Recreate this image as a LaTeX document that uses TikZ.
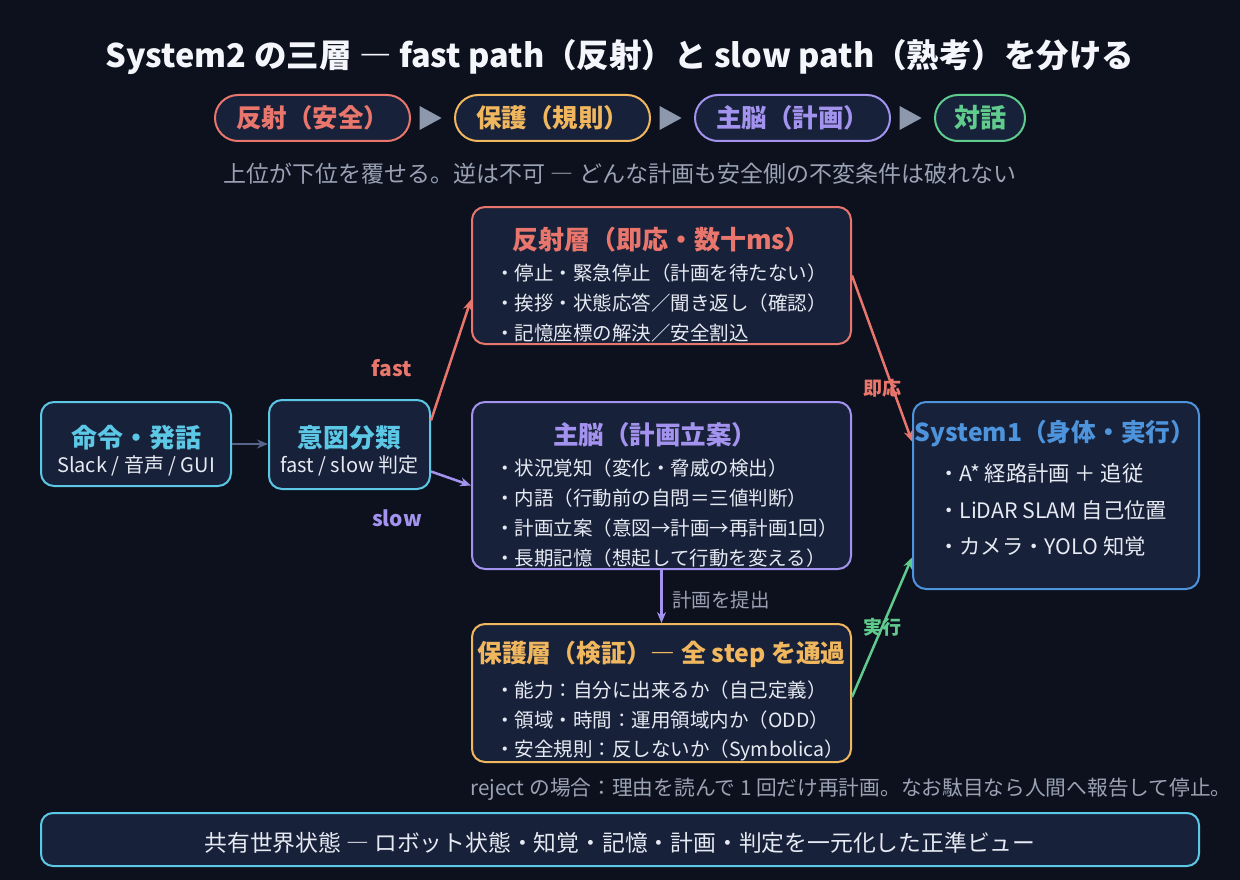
\documentclass[tikz,border=0pt]{standalone}
\usepackage{fontspec}
\setmainfont{Noto Sans CJK JP}
\usetikzlibrary{arrows.meta,calc}
\definecolor{bg}{HTML}{0C111D}
\definecolor{boxfill}{HTML}{18213A}
\definecolor{cred}{HTML}{E8766C}
\definecolor{corange}{HTML}{F0B75E}
\definecolor{cpurple}{HTML}{A393EE}
\definecolor{cgreen}{HTML}{5FCB8D}
\definecolor{ccyan}{HTML}{5CC8E6}
\definecolor{cblue}{HTML}{4D94DC}
\definecolor{cgray}{HTML}{9AA2B4}
\definecolor{ctext}{HTML}{E6EAF2}
\definecolor{ctitle}{HTML}{F4F6FB}
\definecolor{cconn}{HTML}{56648A}
\definecolor{ctri}{HTML}{8E98AC}
\newcommand{\fs}[1]{\fontsize{#1}{#1}\selectfont}
\tikzset{
  box/.style={draw=#1, line width=2pt, fill=boxfill, rounded corners=13pt, inner sep=0pt},
  pill/.style={draw=#1, text=#1, line width=2pt, fill=boxfill, rounded corners=23pt, inner sep=0pt, minimum height=46pt, font=\fs{25.5}\bfseries},
  btitle/.style={font=\fs{25.5}\bfseries, inner sep=0pt},
  bullet/.style={anchor=west, text=ctext, font=\fs{19.5}, inner sep=0pt},
  lbl/.style={font=\fs{21}\bfseries, inner sep=0pt},
  conn/.style={draw=#1, line width=2.5pt, -{Stealth[length=11pt,width=9pt]}},
  tri/.style={fill=ctri},
}
\begin{document}
\begin{tikzpicture}[x=1pt,y=-1pt]
\fill[bg] (0,0) rectangle (1240,880);
\useasboundingbox (0,0) rectangle (1240,880);

% title
\node[text=ctitle, font=\fs{32.5}\bfseries, inner sep=0pt] (title) at (620,57) {System2 の三層 ― fast path（反射）と slow path（熟考）を分ける};

% pills
\node[pill=cred, minimum width=195pt] (p1) at (312.5,118) {反射（安全）};
\node[pill=corange, minimum width=195pt] (p2) at (552.5,118) {保護（規則）};
\node[pill=cpurple, minimum width=195pt] (p3) at (792.5,118) {主脳（計画）};
\node[pill=cgreen, minimum width=90pt, font=\fs{26}\bfseries] (p4) at (980,118) {対話};
\foreach \a/\b in {p1/p2,p2/p3,p3/p4}{
  \fill[tri] ($(\a.east)!0.2!(\b.west)$) ++(0,-12) -- ++(22,12) -- ++(-22,12) -- cycle;
}
\node[text=cgray, font=\fs{23}, inner sep=0pt] (sub) at (620,174) {上位が下位を覆せる。逆は不可 ― どんな計画も安全側の不変条件は破れない};

% reflex layer
\node[box=cred, minimum width=379pt, minimum height=137pt] (reflex) at (661.5,275.5) {};
\node[btitle, text=cred, font=\fs{26}\bfseries] (reflexT) at (661.5,240) {反射層（即応・数十ms）};
\node[bullet] (r1) at (495,273) {・停止・緊急停止（計画を待たない）};
\node[bullet] (r2) at (495,303) {・挨拶・状態応答／聞き返し（確認）};
\node[bullet] (r3) at (495,333) {・記憶座標の解決／安全割込};

% main brain
\node[box=cpurple, minimum width=379pt, minimum height=167pt] (brain) at (661.5,485.5) {};
\node[btitle, text=cpurple] (brainT) at (655,435) {主脳（計画立案）};
\node[bullet] (b1) at (495,468) {・状況覚知（変化・脅威の検出）};
\node[bullet] (b2) at (495,498) {・内語（行動前の自問＝三値判断）};
\node[bullet] (b3) at (495,528) {・計画立案（意図→計画→再計画1回）};
\node[bullet] (b4) at (495,558) {・長期記憶（想起して行動を変える）};

% protection
\node[box=corange, minimum width=379pt, minimum height=138pt] (guard) at (661.5,693) {};
\node[btitle, text=corange, font=\fs{24.8}\bfseries] (guardT) at (661.5,654) {保護層（検証）― 全 step を通過};
\node[bullet] (g1) at (495,690) {・能力：自分に出来るか（自己定義）};
\node[bullet] (g2) at (495,720) {・領域・時間：運用領域内か（ODD）};
\node[bullet] (g3) at (495,750) {・安全規則：反しないか（Symbolica）};

% system1
\node[box=cblue, minimum width=286pt, minimum height=187pt] (sys1) at (1056,495.5) {};
\node[btitle, text=cblue, font=\fs{24.7}\bfseries] (sys1T) at (1055,434) {System1（身体・実行）};
\node[bullet, font=\fs{21.3}] (s1) at (938,473) {・A* 経路計画 ＋ 追従};
\node[bullet, font=\fs{21.3}] (s2) at (938,510) {・LiDAR SLAM 自己位置};
\node[bullet, font=\fs{21.3}] (s3) at (938,546) {・カメラ・YOLO 知覚};

% command
\node[box=ccyan, minimum width=190pt, minimum height=84pt] (cmd) at (136,444) {};
\node[btitle, text=ccyan, font=\fs{26}\bfseries] (cmdT) at (136,438) {命令・発話};
\node[inner sep=0pt, text=ctext, font=\fs{20}] (cmdS) at (136,466) {Slack / 音声 / GUI};

% intent
\node[box=ccyan, minimum width=161pt, minimum height=89pt] (intent) at (349.5,444.5) {};
\node[btitle, text=ccyan, font=\fs{25.8}\bfseries] (intentT) at (349.5,438) {意図分類};
\node[inner sep=0pt, text=ctext, font=\fs{20}] (intentS) at (349.5,466) {fast / slow 判定};

% connectors
\draw[conn=cconn] (cmd.east) -- (intent.west |- cmd.east);
\draw[conn=cred] ([yshift=24pt]intent.east) -- ([yshift=-24pt]reflex.west);
\draw[conn=cpurple] ([yshift=-27pt]intent.east) -- (brain.west);
\node[lbl, text=cred] (fastL) at (392,368) {fast};
\node[lbl, text=cpurple] (slowL) at (397,518) {slow};

\draw[conn=cred] (reflex.east) -- ([yshift=54pt]sys1.west);
\node[lbl, text=cred, font=\fs{19}\bfseries] (sokuL) at (882,388) {即応};

\draw[conn=cpurple] (brain.south) -- (guard.north);
\node[inner sep=0pt, anchor=west, text=cgray, font=\fs{19.5}] (teishutsuL) at (672,600) {計画を提出};

\draw[conn=cgreen] ([yshift=-4pt]guard.east) -- ([yshift=-62pt]sys1.west);
\node[lbl, text=cgreen, font=\fs{19}\bfseries] (jikkoL) at (882,627) {実行};

\node[inner sep=0pt, anchor=west, text=cgray, font=\fs{20.7}] (reject) at (470,789) {reject の場合：理由を読んで 1 回だけ再計画。なお駄目なら人間へ報告して停止。};

% bottom
\node[box=ccyan, minimum width=1158pt, minimum height=53pt, rounded corners=12pt] (world) at (620,839.5) {};
\node[inner sep=0pt, text=ctext, font=\fs{22.8}] (worldT) at (620,843) {共有世界状態 ― ロボット状態・知覚・記憶・計画・判定を一元化した正準ビュー};
\end{tikzpicture}
\end{document}
